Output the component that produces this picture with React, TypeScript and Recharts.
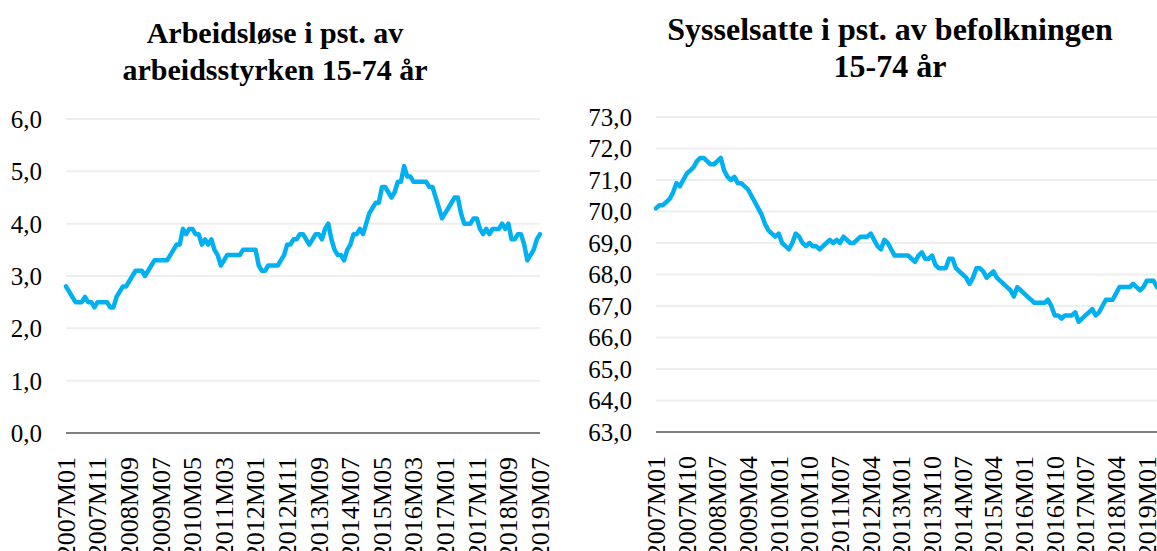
import React from 'react';
import { LineChart, Line, XAxis, YAxis, CartesianGrid } from 'recharts';

const FONT = '"Liberation Serif", "Times New Roman", serif';
const LINE_COLOR = '#00b0f0';

const START_YEAR = 2007;
function monthLabels(n: number): string[] {
  const out: string[] = [];
  for (let i = 0; i < n; i++) {
    const y = START_YEAR + Math.floor(i / 12);
    const m = (i % 12) + 1;
    out.push(`${y}M${m < 10 ? '0' + m : m}`);
  }
  return out;
}

// Arbeidsløse i pst. av arbeidsstyrken 15-74 år, 2007M01–2019M07
const unemployment = [
  2.8, 2.7, 2.6, 2.5, 2.5, 2.5, 2.6, 2.5, 2.5, 2.4, 2.5, 2.5,
  2.5, 2.5, 2.4, 2.4, 2.6, 2.7, 2.8, 2.8, 2.9, 3.0, 3.1, 3.1,
  3.1, 3.0, 3.1, 3.2, 3.3, 3.3, 3.3, 3.3, 3.3, 3.4, 3.5, 3.6,
  3.6, 3.9, 3.8, 3.9, 3.9, 3.8, 3.8, 3.6, 3.7, 3.6, 3.7, 3.5,
  3.4, 3.2, 3.3, 3.4, 3.4, 3.4, 3.4, 3.4, 3.5, 3.5, 3.5, 3.5,
  3.5, 3.2, 3.1, 3.1, 3.2, 3.2, 3.2, 3.2, 3.3, 3.4, 3.6, 3.6,
  3.7, 3.7, 3.8, 3.8, 3.7, 3.6, 3.7, 3.8, 3.8, 3.7, 3.9, 4.0,
  3.7, 3.5, 3.4, 3.4, 3.3, 3.5, 3.6, 3.8, 3.8, 3.9, 3.8, 4.0,
  4.2, 4.3, 4.4, 4.4, 4.7, 4.7, 4.6, 4.5, 4.6, 4.8, 4.8, 5.1,
  4.9, 4.9, 4.8, 4.8, 4.8, 4.8, 4.8, 4.7, 4.7, 4.5, 4.3, 4.1,
  4.2, 4.3, 4.4, 4.5, 4.5, 4.2, 4.0, 4.0, 4.0, 4.1, 4.1, 3.9,
  3.8, 3.9, 3.8, 3.9, 3.9, 3.9, 4.0, 3.9, 4.0, 3.7, 3.7, 3.8,
  3.8, 3.6, 3.3, 3.4, 3.5, 3.7, 3.8,
];

// Sysselsatte i pst. av befolkningen 15-74 år, 2007M01–2019M04
const employment = [
  70.1, 70.2, 70.2, 70.3, 70.4, 70.6, 70.9, 70.8, 71.0, 71.2, 71.3, 71.4,
  71.6, 71.7, 71.7, 71.6, 71.5, 71.5, 71.6, 71.7, 71.3, 71.1, 71.0, 71.1,
  70.9, 70.9, 70.8, 70.7, 70.5, 70.3, 70.1, 69.9, 69.6, 69.4, 69.3, 69.2,
  69.3, 69.0, 68.9, 68.8, 69.0, 69.3, 69.2, 69.0, 68.9, 69.0, 68.9, 68.9,
  68.8, 68.9, 69.0, 69.1, 69.0, 69.1, 69.0, 69.2, 69.1, 69.0, 69.0, 69.1,
  69.2, 69.2, 69.2, 69.3, 69.1, 68.9, 68.8, 69.1, 69.0, 68.8, 68.6, 68.6,
  68.6, 68.6, 68.6, 68.5, 68.4, 68.6, 68.7, 68.5, 68.5, 68.6, 68.3, 68.2,
  68.2, 68.2, 68.5, 68.5, 68.2, 68.1, 68.0, 67.9, 67.7, 67.9, 68.2, 68.2,
  68.1, 67.9, 68.0, 68.1, 67.9, 67.8, 67.7, 67.6, 67.5, 67.3, 67.6, 67.5,
  67.4, 67.3, 67.2, 67.1, 67.1, 67.1, 67.1, 67.2, 67.0, 66.7, 66.7, 66.6,
  66.7, 66.7, 66.7, 66.8, 66.5, 66.6, 66.7, 66.8, 66.9, 66.7, 66.8, 67.0,
  67.2, 67.2, 67.2, 67.4, 67.6, 67.6, 67.6, 67.6, 67.7, 67.6, 67.5, 67.6,
  67.8, 67.8, 67.8, 67.6,
];

const leftCategories = monthLabels(unemployment.length);
const rightCategories = monthLabels(employment.length);

const leftTickLabels = [
  '2007M01', '2007M11', '2008M09', '2009M07', '2010M05', '2011M03', '2012M01', '2012M11',
  '2013M09', '2014M07', '2015M05', '2016M03', '2017M01', '2017M11', '2018M09', '2019M07',
];
const rightTickLabels = [
  '2007M01', '2007M10', '2008M07', '2009M04', '2010M01', '2010M10', '2011M07', '2012M04',
  '2013M01', '2013M10', '2014M07', '2015M04', '2016M01', '2016M10', '2017M07', '2018M04', '2019M01',
];
const leftYTicks = [0, 1, 2, 3, 4, 5, 6];
const rightYTicks = [63, 64, 65, 66, 67, 68, 69, 70, 71, 72, 73];

const leftTitle = ['Arbeidsløse i pst. av', 'arbeidsstyrken 15-74 år'];
const rightTitle = ['Sysselsatte i pst. av befolkningen', '15-74 år'];

const leftData = leftCategories.map((c, i) => ({ month: c, value: unemployment[i] }));
const rightData = rightCategories.map((c, i) => ({ month: c, value: employment[i] }));

const fmt = (v: number) => v.toFixed(1).replace('.', ',');

const RotTick = (props: any) => {
  const { x, y, payload } = props;
  return (
    <text
      x={x}
      y={y}
      transform={`rotate(-90 ${x} ${y})`}
      textAnchor="end"
      dy="0.34em"
      fontSize={26}
      fontFamily={FONT}
      fill="#000"
    >
      {payload.value}
    </text>
  );
};

const Title = ({
  lines,
  center,
  top,
  size,
}: {
  lines: string[];
  center: number;
  top: number;
  size: number;
}) => (
  <div
    style={{
      position: 'absolute',
      left: center - 300,
      width: 600,
      top,
      textAlign: 'center',
      fontFamily: FONT,
      fontWeight: 'bold',
      fontSize: size,
      lineHeight: '37px',
      color: '#000',
      whiteSpace: 'nowrap',
    }}
  >
    {lines.map((l) => (
      <div key={l}>{l}</div>
    ))}
  </div>
);

export default function App() {
  return (
    <div
      style={{
        position: 'absolute',
        left: 0,
        top: 0,
        width: 1157,
        height: 551,
        overflow: 'hidden',
        background: '#fff',
      }}
    >
      <Title lines={leftTitle} center={275} top={14} size={30} />
      <Title lines={rightTitle} center={890} top={11} size={32} />

      <div style={{ position: 'absolute', left: 0, top: 0 }}>
        <LineChart
          width={560}
          height={551}
          data={leftData}
          margin={{ top: 119, right: 20, bottom: 0, left: 0 }}
        >
          <CartesianGrid vertical={false} stroke="#eeeeee" strokeWidth={2} />
          <XAxis
            dataKey="month"
            type="category"
            scale="point"
            ticks={leftTickLabels}
            interval={0}
            height={118}
            tickSize={0}
            tickMargin={24}
            tickLine={false}
            axisLine={{ stroke: '#808080', strokeWidth: 2 }}
            tick={<RotTick />}
          />
          <YAxis
            type="number"
            domain={[0, 6]}
            ticks={leftYTicks}
            interval={0}
            width={66}
            tickSize={0}
            tickMargin={24}
            tickLine={false}
            axisLine={false}
            tickFormatter={fmt}
            tick={{ fill: '#000', fontSize: 25, fontFamily: FONT }}
          />
          <Line
            type="linear"
            dataKey="value"
            stroke={LINE_COLOR}
            strokeWidth={4.5}
            strokeLinejoin="round"
            strokeLinecap="round"
            dot={false}
            isAnimationActive={false}
          />
        </LineChart>
      </div>

      <div style={{ position: 'absolute', left: 570, top: 0 }}>
        <LineChart
          width={587}
          height={551}
          data={rightData}
          margin={{ top: 117, right: 0, bottom: 0, left: 0 }}
        >
          <CartesianGrid vertical={false} stroke="#eeeeee" strokeWidth={2} />
          <XAxis
            dataKey="month"
            type="category"
            scale="point"
            ticks={rightTickLabels}
            interval={0}
            height={119}
            tickSize={0}
            tickMargin={24}
            tickLine={false}
            axisLine={{ stroke: '#808080', strokeWidth: 2 }}
            tick={<RotTick />}
          />
          <YAxis
            type="number"
            domain={[63, 73]}
            ticks={rightYTicks}
            interval={0}
            width={86}
            tickSize={0}
            tickMargin={24}
            tickLine={false}
            axisLine={false}
            tickFormatter={fmt}
            tick={{ fill: '#000', fontSize: 25, fontFamily: FONT }}
          />
          <Line
            type="linear"
            dataKey="value"
            stroke={LINE_COLOR}
            strokeWidth={4.5}
            strokeLinejoin="round"
            strokeLinecap="round"
            dot={false}
            isAnimationActive={false}
          />
        </LineChart>
      </div>
    </div>
  );
}
